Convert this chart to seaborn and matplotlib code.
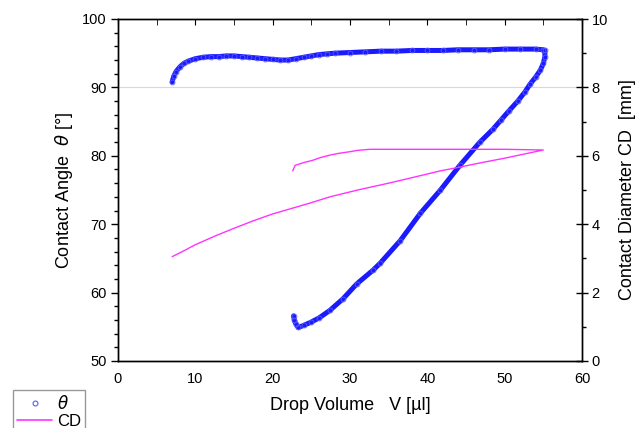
import matplotlib
matplotlib.use("Agg")
import matplotlib.pyplot as plt
import seaborn as sns
import numpy as np
import pandas as pd
from matplotlib.lines import Line2D
from matplotlib.ticker import MultipleLocator

sns.set_style("white")
plt.rcParams['font.family'] = ['Liberation Sans', 'DejaVu Sans']
plt.rcParams['text.color'] = 'black'
plt.rcParams['axes.labelcolor'] = 'black'
plt.rcParams['xtick.color'] = 'black'
plt.rcParams['ytick.color'] = 'black'

# Contact angle theta [deg] vs drop volume V [ul] (inflation then deflation loop)
theta_V = [7.0, 7.2, 7.5, 8.0, 8.5, 9.0, 10, 11, 12, 13, 14, 15, 16, 17, 18, 19, 20, 21, 22,
           23, 24, 25, 26, 27, 28, 30, 32, 34, 36, 38, 40, 42, 44, 46, 48, 50, 52, 54, 55.0,
           55.2, 55.2, 55.0, 54.6, 54.0, 53.3, 52.6, 51.7, 50.5, 49.5, 48.5, 46.8, 44.2,
           41.7, 39.1, 36.5, 33.9, 33.0, 30.9, 29.1, 27.4, 26.0, 25.0, 24.0, 23.3, 23.0,
           22.8, 22.7]
theta_val = [90.8, 91.6, 92.3, 93.0, 93.5, 93.8, 94.2, 94.4, 94.5, 94.5, 94.6, 94.6, 94.5,
             94.4, 94.3, 94.2, 94.1, 94.0, 94.0, 94.2, 94.4, 94.6, 94.8, 94.9, 95.0, 95.1,
             95.2, 95.3, 95.3, 95.4, 95.4, 95.4, 95.5, 95.5, 95.5, 95.6, 95.6, 95.6, 95.5,
             95.4, 94.5, 93.5, 92.5, 91.5, 90.5, 89.3, 88.0, 86.5, 85.2, 83.9, 82.0, 78.6,
             75.0, 71.6, 67.6, 64.3, 63.3, 61.3, 59.1, 57.4, 56.3, 55.7, 55.2, 54.9, 55.4,
             56.0, 56.6]

# Contact diameter CD [mm] vs drop volume V [ul]
cd_V = [7.0, 8.5, 10, 12.5, 15, 17.5, 20, 23.5, 25, 27.4, 31, 35, 38, 41.7, 44.2, 47,
        50, 52.5, 55.0,
        50, 40, 32.6, 31.0, 30.0, 28.5, 27.4, 26.2, 25.2, 24.0, 22.9, 22.6]
cd_val = [3.05, 3.22, 3.40, 3.65, 3.88, 4.10, 4.30, 4.53, 4.63, 4.80, 5.00, 5.20, 5.36,
          5.56, 5.67, 5.80, 5.93, 6.05, 6.17,
          6.19, 6.19, 6.19, 6.16, 6.12, 6.07, 6.02, 5.95, 5.87, 5.80, 5.72, 5.56]

x_ticks = [0, 10, 20, 30, 40, 50, 60]
y_ticks = [50, 60, 70, 80, 90, 100]
y2_ticks = [0, 2, 4, 6, 8, 10]

df_theta = pd.DataFrame({"V": theta_V, "theta": theta_val})
df_cd = pd.DataFrame({"V": cd_V, "CD": cd_val})

fig = plt.figure(figsize=(6.4, 4.28), dpi=100)
ax = fig.add_axes([118/640, 1-361/428, (582-118)/640, (361-19)/428])
ax2 = ax.twinx()

blue = "#1a1aff"
mag = "#ff33ff"

ax.axhline(90, color="#d8d8d8", lw=0.8, zorder=0)

sns.lineplot(data=df_theta, x="V", y="theta", sort=False, estimator=None, ax=ax,
             color=blue, lw=3.6, zorder=3, legend=False)
sns.lineplot(data=df_theta, x="V", y="theta", sort=False, estimator=None, ax=ax,
             color=blue, lw=0, marker="o", markersize=3.5, markerfacecolor="none",
             markeredgecolor="#5a5aff", markeredgewidth=0.6, zorder=4, legend=False)

sns.lineplot(data=df_cd, x="V", y="CD", sort=False, estimator=None, ax=ax2,
             color=mag, lw=1.0, legend=False)

ax.set_xlim(0, 60)
ax.set_ylim(50, 100)
ax2.set_ylim(0, 10)
ax.set_xticks(x_ticks)
ax.set_yticks(y_ticks)
ax2.set_yticks(y2_ticks)
ax.xaxis.set_minor_locator(MultipleLocator(5))
ax.yaxis.set_minor_locator(MultipleLocator(2))
ax2.yaxis.set_minor_locator(MultipleLocator(1))

for a in (ax, ax2):
    for s in a.spines.values():
        s.set_color("black")
        s.set_linewidth(1.0)
        s.set_visible(True)

ax.tick_params(axis="both", which="major", direction="out", length=5, width=1,
               labelsize=10.5, colors="black", pad=3)
ax.tick_params(axis="both", which="minor", direction="out", length=3, width=1)
ax2.tick_params(axis="y", which="major", direction="inout", length=8, width=1,
                labelsize=10.5, pad=3, colors="black")
ax2.tick_params(axis="y", which="minor", direction="out", length=3, width=1)

# top ticks inward
secx = ax.secondary_xaxis("top")
secx.set_xticks(x_ticks)
secx.xaxis.set_minor_locator(MultipleLocator(5))
secx.tick_params(axis="x", which="both", direction="in", length=4, labeltop=False)
secx.spines["top"].set_visible(False)
ax.tick_params(axis="x", which="both", top=False)

ax.set_xlabel("Drop Volume   V [µl]", fontsize=13, labelpad=8, color="black")
ax.set_ylabel("Contact Angle  $\\theta$ [°]", fontsize=13, labelpad=5, color="black")
ax2.set_ylabel("Contact Diameter CD  [mm]", fontsize=13, labelpad=8, color="black")

handles = [
    Line2D([], [], color="#5a5aff", lw=0, marker="o", markersize=3.5,
           markerfacecolor="none", markeredgewidth=0.8),
    Line2D([], [], color=mag, lw=1.2),
]
leg = fig.legend(handles, ["$\\theta$", "CD"], loc="upper left",
                 bbox_to_anchor=(13/640, 1-390/428), frameon=True, fancybox=False,
                 edgecolor="#808080", fontsize=12, handlelength=2.1,
                 handletextpad=0.3, borderpad=0.25, labelspacing=0.1,
                 borderaxespad=0)
leg.get_frame().set_linewidth(1.0)
for t in leg.get_texts():
    t.set_color("black")

fig.savefig("out.png", dpi=100)
